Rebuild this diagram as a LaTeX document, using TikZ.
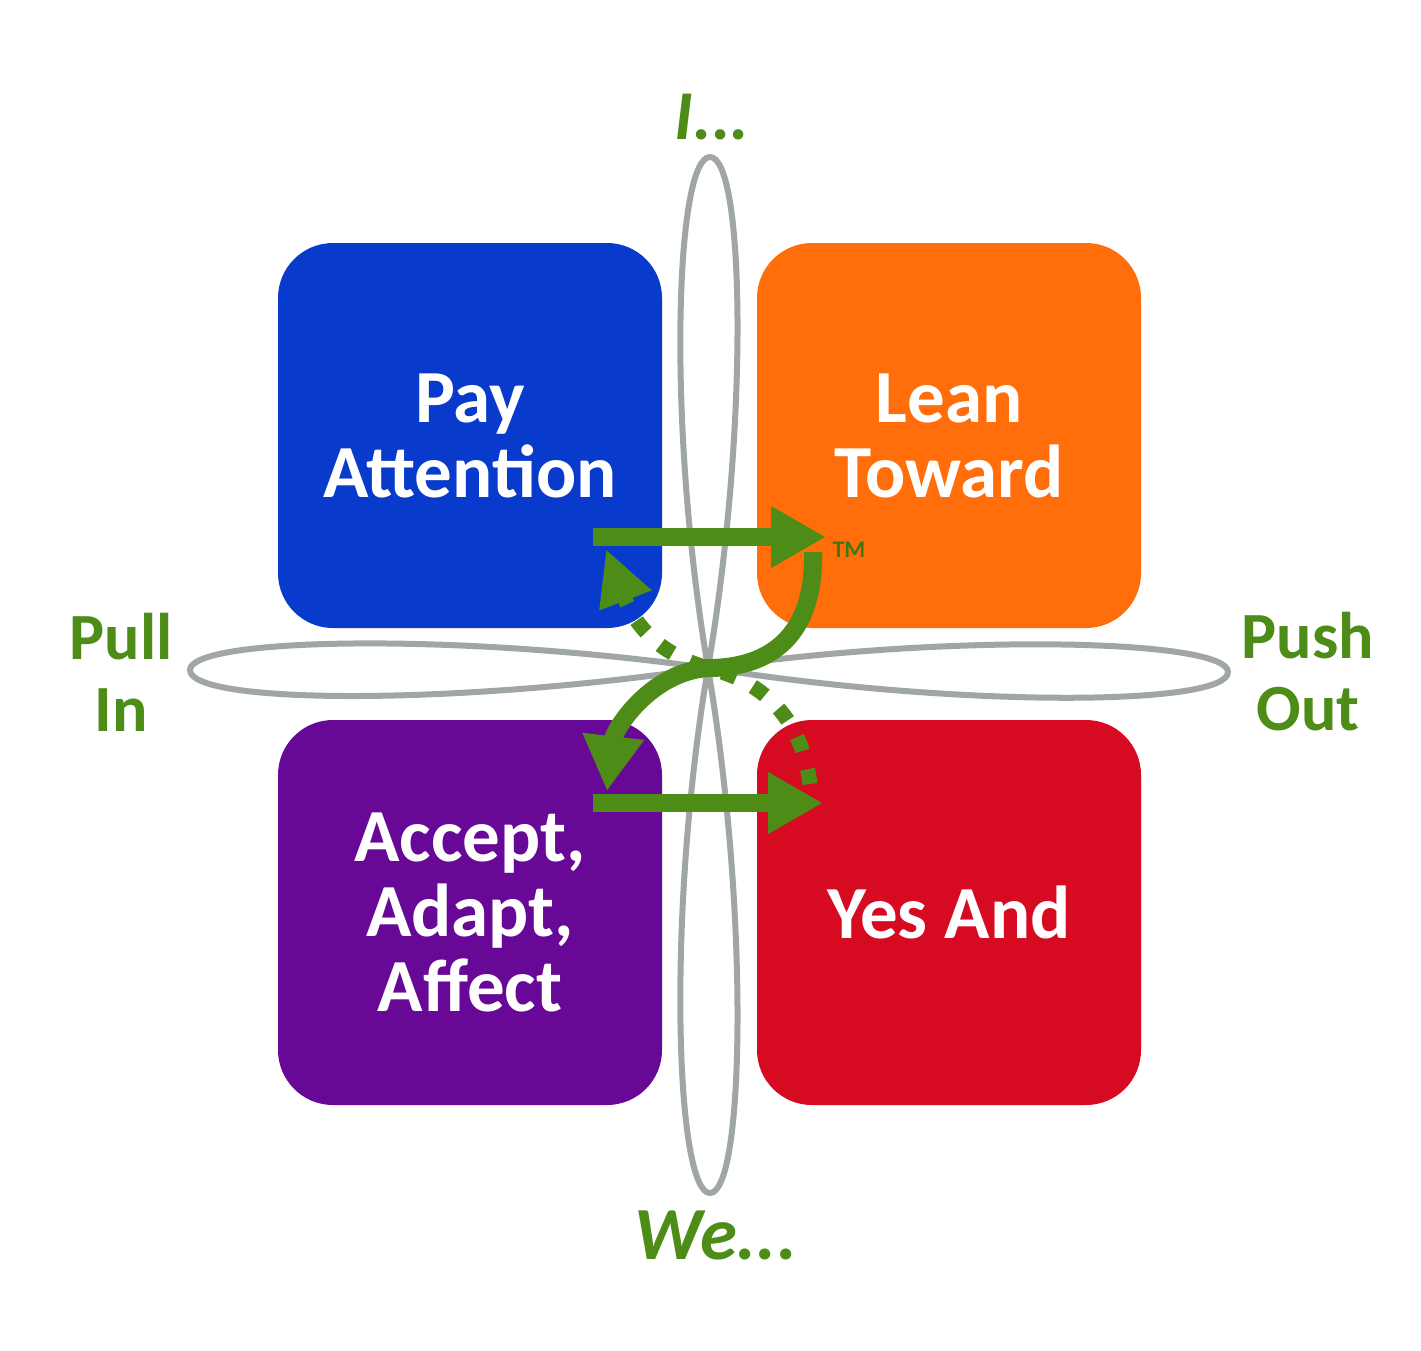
\documentclass[tikz,border=0pt]{standalone}
\usepackage{fontspec}
\setmainfont{Carlito}
\usetikzlibrary{arrows.meta}
\definecolor{cblue}{RGB}{8,58,204}
\definecolor{corange}{RGB}{255,110,10}
\definecolor{cpurple}{RGB}{104,8,150}
\definecolor{cred}{RGB}{214,10,32}
\definecolor{cgreen}{RGB}{78,140,24}
\definecolor{cgray}{RGB}{160,166,166}
\begin{document}
\begin{tikzpicture}[x=1pt,y=-1pt,
  quad/.style={rounded corners=55pt, minimum width=384pt, minimum height=385pt, inner sep=0pt,
    text=white, align=center, font=\bfseries\fontsize{75}{75}\selectfont},
  lbl/.style={text=cgreen, align=center, font=\bfseries\fontsize{66}{72}\selectfont},
  petal/.style={draw=cgray, line width=6pt},
  garrow/.style={draw=cgreen, line width=18pt, -{Triangle[length=55pt,width=58pt]}},
  gdot/.style={draw=cgreen, line width=15pt, dash pattern=on 15pt off 19pt, -{Triangle[length=55pt,width=52pt]}}
]
\useasboundingbox (0,0) rectangle (1421,1350);
\fill[white] (0,0) rectangle (1421,1350);
% petals
\coordinate (c) at (708,668);
\draw[petal] (c) .. controls (750,420) and (744,157) .. (710,157) .. controls (676,157) and (666,420) .. (c);
\draw[petal] (c) .. controls (750,916) and (744,1193) .. (710,1193) .. controls (676,1193) and (666,916) .. (c);
\draw[petal] (c) .. controls (450,632) and (190,638) .. (190,670) .. controls (190,704) and (450,706) .. (c);
\draw[petal] (c) .. controls (960,632) and (1228,640) .. (1228,672) .. controls (1228,706) and (960,708) .. (c);
% boxes
\node[quad, fill=cblue] (pa) at (470,435.5) {Pay\\Attention};
\node[quad, fill=corange] (lt) at (949,435.5) {Lean\\Toward};
\node[quad, fill=cpurple] (aa) at (470,912.5) {Accept,\\Adapt,\\Affect};
\node[quad, fill=cred] (ya) at (949,912.5) {Yes And};
% labels
\node[lbl] (ii) at (712,117) {\itshape\fontsize{70}{72}\selectfont I...};
\node[lbl] (we) at (716,1235) {\itshape\fontsize{75}{75}\selectfont We...};
\node[lbl] (pull) at (121,672) {Pull\\In};
\node[lbl] (push) at (1308,672) {Push\\Out};
\node[text=cgreen!85!black, font=\bfseries\fontsize{24}{24}\selectfont] (tm) at (849,550) {TM};
% arrows
\coordinate (a1s) at (593,537);
\coordinate (a1e) at (826,537);
\coordinate (a2s) at (593,803);
\coordinate (a2e) at (823,803);
\coordinate (ss) at (813,552);
\coordinate (se) at (607,791);
\coordinate (ds) at (810,784);
\coordinate (de) at (606,549);
\draw[gdot] (ds) .. controls (802,720) and (765,682) .. (c) .. controls (662,655) and (636,628) .. (de);
\draw[garrow] (a1s) -- (a1e);
\draw[garrow] (a2s) -- (a2e);
\draw[garrow] (ss) .. controls (815,645) and (760,668) .. (c) .. controls (650,672) and (614,730) .. (se);
\end{tikzpicture}
\end{document}
